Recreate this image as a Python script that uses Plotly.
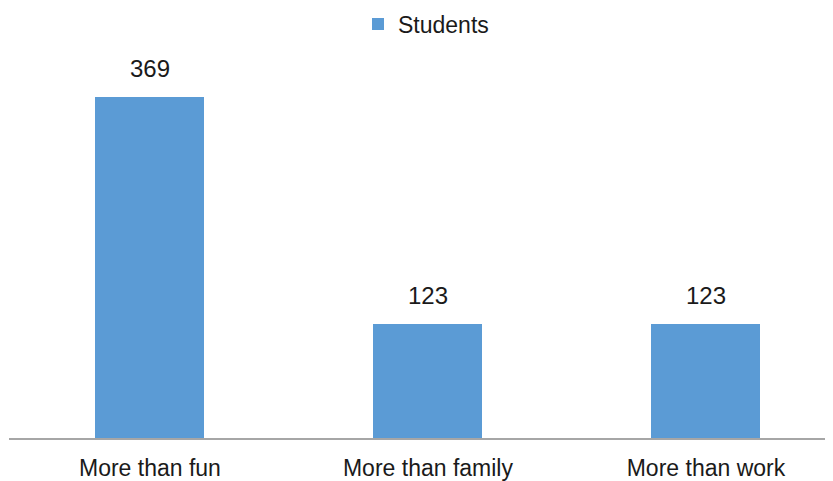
import plotly.graph_objects as go

categories = ["More than fun", "More than family", "More than work"]
students = [369, 123, 123]
series_name = "Students"

fig = go.Figure()
fig.add_trace(go.Bar(
    x=[0, 1, 2], y=students, name=series_name,
    marker=dict(color="#5B9BD5", line=dict(width=0)),
    width=0.392, showlegend=True,
))
for i, v in enumerate(students):
    fig.add_annotation(x=i, y=v, text=str(v), showarrow=False,
                       yanchor="bottom", yshift=13,
                       font=dict(size=24, color="#1a1a1a"))

fig.update_layout(
    width=825, height=473,
    margin=dict(l=1, r=0, t=52, b=43),
    paper_bgcolor="white", plot_bgcolor="white",
    font=dict(family="Liberation Sans", color="#1a1a1a"),
    legend=dict(orientation="h", x=0.5 + 5 / 824, xanchor="center",
                y=0.966, yref="container", yanchor="middle",
                font=dict(size=23, color="#1a1a1a"),
                itemwidth=30, traceorder="normal"),
    bargap=0,
)
fig.update_xaxes(
    tickmode="array", tickvals=[0, 1, 2], ticktext=categories,
    range=[-0.507, 2.457], showgrid=False, zeroline=False,
    showline=True, linecolor="#A6A6A6", linewidth=2,
    ticks="", ticklabelstandoff=8, tickfont=dict(size=23, color="#1a1a1a"),
)
fig.update_yaxes(range=[0, 409], visible=False)

fig.write_html("out.html")
